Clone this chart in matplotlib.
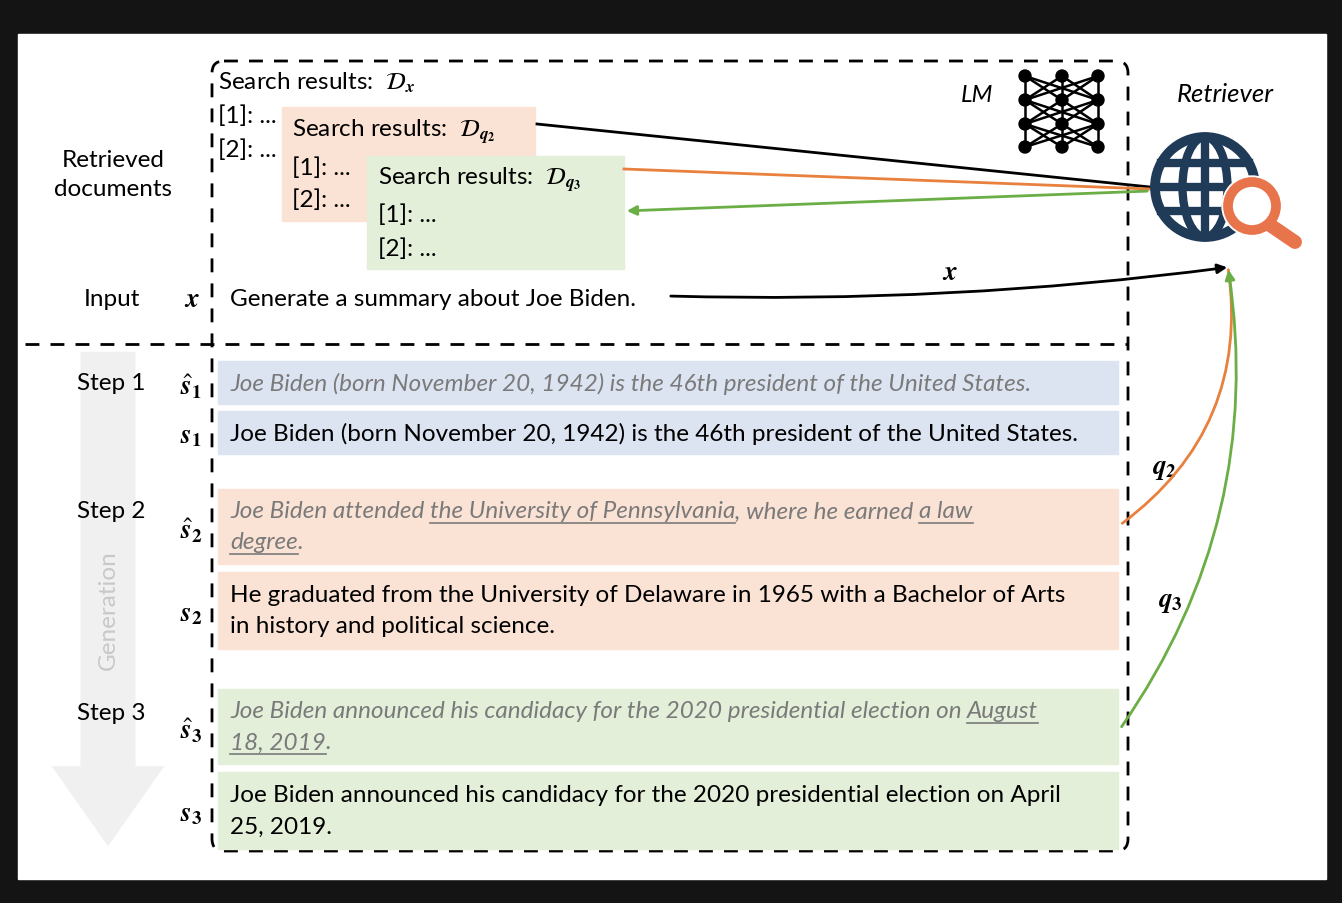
import matplotlib.pyplot as plt
from matplotlib.patches import Rectangle, FancyBboxPatch, FancyArrowPatch, Circle, Ellipse
import numpy as np

plt.rcParams['font.family'] = ['Lato', 'DejaVu Sans']
plt.rcParams['mathtext.fontset'] = 'stix'

FS = 17.5
BLUE = '#dce3f1'
ORANGE = '#fae2d4'
GREEN = '#e3efd9'
ORANGE_LINE = '#e8803e'
GREEN_LINE = '#6aae45'
GREY_TXT = '#7a7a7a'

step_labels = ['Step 1', 'Step 2', 'Step 3']
step_y = [384, 512, 714]

# rows: (top, bottom, colour, symbol, lines, italic)
row_tops = [362, 412, 490, 573, 690, 773]
row_bottoms = [405, 455, 565, 650, 765, 850]
row_colors = [BLUE, BLUE, ORANGE, ORANGE, GREEN, GREEN]
row_symbols = [r'$\hat{\boldsymbol{s}}_\mathbf{1}$', r'$\boldsymbol{s}_\mathbf{1}$', r'$\hat{\boldsymbol{s}}_\mathbf{2}$',
               r'$\boldsymbol{s}_\mathbf{2}$', r'$\hat{\boldsymbol{s}}_\mathbf{3}$', r'$\boldsymbol{s}_\mathbf{3}$']
# each line is a list of (text, underlined)
row_lines = [
    [[('Joe Biden (born November 20, 1942) is the 46th president of the United States.', False)]],
    [[('Joe Biden (born November 20, 1942) is the 46th president of the United States.', False)]],
    [[('Joe Biden attended ', False), ('the University of Pennsylvania', True), (', where he earned ', False), ('a law', True)],
     [('degree', True), ('.', False)]],
    [[('He graduated from the University of Delaware in 1965 with a Bachelor of Arts', False)],
     [('in history and political science.', False)]],
    [[('Joe Biden announced his candidacy for the 2020 presidential election on ', False), ('August', True)],
     [('18, 2019', True), ('.', False)]],
    [[('Joe Biden announced his candidacy for the 2020 presidential election on April', False)],
     [('25, 2019.', False)]],
]
row_italic = [True, False, True, False, True, False]

fig = plt.figure(figsize=(13.42, 9.04), dpi=100, facecolor='#141414')
ax = fig.add_axes([0, 0, 1, 1])
ax.set_xlim(0, 1342)
ax.set_ylim(904, 0)
ax.axis('off')
ax.add_patch(Rectangle((18, 35), 1308, 845, color='white', zorder=0))

# dashed frame
ax.add_patch(FancyBboxPatch((212, 62), 916, 790, boxstyle='round,pad=0,rounding_size=12',
                            fill=False, ls=(0, (5, 4)), lw=2, ec='black', zorder=2))
ax.plot([25, 1128], [345, 345], color='black', ls=(0, (5, 4)), lw=2, zorder=2)

# generation arrow
ax.add_patch(FancyArrowPatch((108, 350), (108, 850), arrowstyle='simple,head_width=4.5,head_length=3.2,tail_width=2.2',
                             mutation_scale=18, color='#f0f0f0', lw=0, zorder=1))
ax.text(108, 610, 'Generation', rotation=90, ha='center', va='center', fontsize=FS, color='#c8c8c8', zorder=2)

# left labels
ax.text(113, 175, 'Retrieved\ndocuments', ha='center', va='center', fontsize=FS, linespacing=1.5)
ax.text(112, 300, 'Input', ha='center', va='center', fontsize=FS)
ax.text(192, 300, r'$\boldsymbol{x}$', ha='center', va='center', fontsize=FS + 2)
for lab, y in zip(step_labels, step_y):
    ax.text(111, y, lab, ha='center', va='center', fontsize=FS)

fig.canvas.draw()
rend = fig.canvas.get_renderer()
inv = ax.transData.inverted()


def draw_line(x, y, pieces, italic, color):
    for txt, ul in pieces:
        t = ax.text(x, y, txt, ha='left', va='center', fontsize=FS, style='italic' if italic else 'normal',
                    color=color, zorder=4)
        bb = t.get_window_extent(rend)
        (x0, _), (x1, _) = inv.transform([(bb.x0, bb.y0), (bb.x1, bb.y1)])
        if ul:
            ax.plot([x0, x1], [y + 12, y + 12], color=color, lw=1.2, zorder=4)
        x = x1


# rows
for top, bot, col, sym, lines, it in zip(row_tops, row_bottoms, row_colors, row_symbols, row_lines, row_italic):
    ax.add_patch(Rectangle((218, top), 900, bot - top, color=col, zorder=3))
    mid = (top + bot) / 2
    ax.text(191, mid + 3, sym, ha='center', va='center', fontsize=FS + 2, zorder=4)
    n = len(lines)
    for i, pieces in enumerate(lines):
        y = mid + (i - (n - 1) / 2) * 31
        draw_line(230, y, pieces, it, GREY_TXT if it else 'black')

# search results
ax.text(218, 83, r'Search results:  $\mathcal{D}_{\boldsymbol{x}}$', va='center', fontsize=FS, zorder=4)
ax.text(218, 116, '[1]: ...', va='center', fontsize=FS, zorder=4)
ax.text(218, 150, '[2]: ...', va='center', fontsize=FS, zorder=4)
ax.add_patch(Rectangle((282, 108), 253, 114, color=ORANGE, zorder=3))
ax.text(292, 132, r'Search results:  $\mathcal{D}_{\boldsymbol{q}_{\mathbf{2}}}$', va='center', fontsize=FS, zorder=4)
ax.text(292, 168, '[1]: ...', va='center', fontsize=FS, zorder=4)
ax.text(292, 200, '[2]: ...', va='center', fontsize=FS, zorder=4)
ax.add_patch(Rectangle((367, 157), 257, 113, color=GREEN, zorder=4))
ax.text(378, 180, r'Search results:  $\mathcal{D}_{\boldsymbol{q}_{\mathbf{3}}}$', va='center', fontsize=FS, zorder=5)
ax.text(378, 215, '[1]: ...', va='center', fontsize=FS, zorder=5)
ax.text(378, 249, '[2]: ...', va='center', fontsize=FS, zorder=5)

# input
ax.text(230, 300, 'Generate a summary about Joe Biden.', va='center', fontsize=FS, zorder=4)

# retriever connections
ax.plot([537, 1150], [125, 188], color='black', lw=2, zorder=5)
ax.plot([624, 1150], [170, 190], color=ORANGE_LINE, lw=2, zorder=5)
ax.add_patch(FancyArrowPatch((1150, 192), (624, 212), arrowstyle='-|>', mutation_scale=14, color=GREEN_LINE, lw=2, zorder=5))
ax.add_patch(FancyArrowPatch((668, 297), (1230, 268), connectionstyle='arc3,rad=0.04', arrowstyle='-|>',
                             mutation_scale=14, color='black', lw=2, zorder=5))
ax.text(950, 273, r'$\boldsymbol{x}$', ha='center', va='center', fontsize=FS + 2)
ax.add_patch(FancyArrowPatch((1120, 526), (1228, 268), connectionstyle='arc3,rad=0.3', arrowstyle='-',
                             color=ORANGE_LINE, lw=2, zorder=5))
ax.add_patch(FancyArrowPatch((1120, 730), (1228, 268), connectionstyle='arc3,rad=0.2', arrowstyle='-|>',
                             mutation_scale=14, color=GREEN_LINE, lw=2, zorder=5))
ax.text(1165, 470, r'$\boldsymbol{q}_{\mathbf{2}}$', ha='center', va='center', fontsize=FS + 2)
ax.text(1170, 603, r'$\boldsymbol{q}_{\mathbf{3}}$', ha='center', va='center', fontsize=FS + 2)

# LM icon
ax.text(977, 95, 'LM', ha='center', va='center', fontsize=FS, style='italic')
nx = [1025, 1062, 1098]
ny = [77, 101, 125, 148]
for a in range(3):
    for i in range(3):
        for j in range(3):
            ax.plot([nx[i], nx[j]], [ny[a], ny[a + 1]], color='black', lw=1.8, zorder=5)
for x in nx:
    for y in ny:
        ax.add_patch(Circle((x, y), 6, color='black', zorder=6))

# retriever icon
ax.text(1225, 95, 'Retriever', ha='center', va='center', fontsize=FS + 1, style='italic')
NAVY = '#1f3b57'
cx, cy, r = 1205, 188, 50
ax.add_patch(Circle((cx, cy), r, fill=False, ec=NAVY, lw=7, zorder=5))
ax.add_patch(Ellipse((cx, cy), 45, 2 * r, fill=False, ec=NAVY, lw=6, zorder=5))
ax.plot([cx, cx], [cy - r, cy + r], color=NAVY, lw=6, zorder=5)
ax.plot([cx - r, cx + r], [cy, cy], color=NAVY, lw=6, zorder=5)
ax.plot([cx - 44, cx + 44], [cy - 24, cy - 24], color=NAVY, lw=6, zorder=5)
ax.plot([cx - 44, cx + 44], [cy + 24, cy + 24], color=NAVY, lw=6, zorder=5)
MAG = '#e8744c'
ax.add_patch(Circle((1252, 207), 30, color='white', zorder=6))
ax.add_patch(Circle((1252, 207), 24, fill=False, ec=MAG, lw=7, zorder=7))
ax.plot([1270, 1295], [226, 243], color=MAG, lw=10, solid_capstyle='round', zorder=7)

fig.savefig('out.png', dpi=100, facecolor=fig.get_facecolor())
